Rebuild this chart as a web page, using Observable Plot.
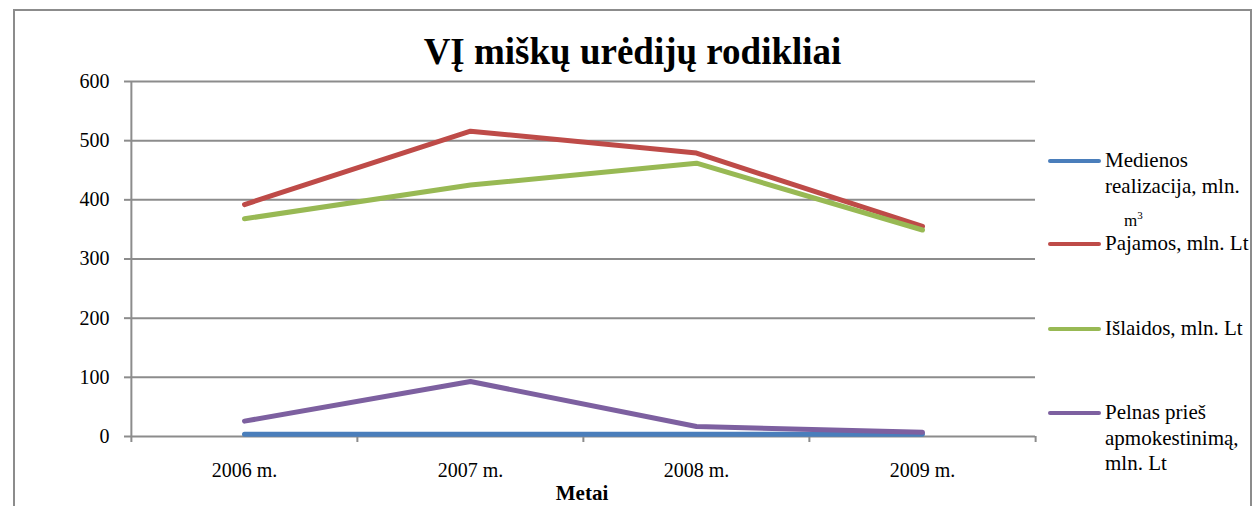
<!DOCTYPE html>
<html>
<head>
<meta charset="utf-8">
<script src="https://cdn.jsdelivr.net/npm/d3@7"></script>
<script src="https://cdn.jsdelivr.net/npm/@observablehq/plot@0.6"></script>
<style>
  html, body { margin: 0; padding: 0; background: #fff; }
  #wrap { position: relative; width: 1253px; height: 506px; overflow: hidden; font-family: "Liberation Serif", "Times New Roman", serif; color: #000; }
  #border { position: absolute; left: 13px; top: 9px; width: 1235px; height: 520px; border: 2px solid #8c8c8c; }
  #chart { position: absolute; left: 0; top: 0; }
  .abs { position: absolute; white-space: nowrap; }
  #title { left: 0; width: 1265px; top: 31px; text-align: center; font-weight: bold; font-size: 37px; line-height: 42px; }
  #xlabel { left: 482px; width: 200px; top: 482px; text-align: center; font-weight: bold; font-size: 21px; line-height: 22px; }
  .leg-line { position: absolute; height: 4px; width: 53px; left: 1048px; border-radius: 2px; }
  .leg-text { position: absolute; left: 1105px; font-size: 21px; line-height: 25px; }
  #chart svg text { font-size: 20px; }
</style>
</head>
<body>
<div id="wrap">
  <div id="border"></div>
  <div id="chart"></div>
  <div id="title" class="abs"></div>
  <div id="xlabel" class="abs"></div>
  <div id="legend"></div>
</div>
<script>
const title = "VĮ miškų urėdijų rodikliai";
const xTitle = "Metai";
const years = ["2006 m.", "2007 m.", "2008 m.", "2009 m."];
const yTicks = [0, 100, 200, 300, 400, 500, 600];

const seriesNames = ["Medienos realizacija, mln. m3", "Pajamos, mln. Lt", "Išlaidos, mln. Lt", "Pelnas prieš apmokestinimą, mln. Lt"];
const seriesColors = ["#4A7EBB", "#BE4B48", "#98B954", "#7D60A0"];

const mediena = [3.8, 3.9, 3.8, 3.6];
const pajamos = [392, 516, 479, 355];
const islaidos = [368, 425, 462, 349];
const pelnas = [26, 93, 17, 7];

const seriesValues = [mediena, pajamos, islaidos, pelnas];

// legend text lines (as wrapped in the reference)
const legendLines = [
  ["Medienos", "realizacija, mln."],
  ["Pajamos, mln. Lt"],
  ["Išlaidos, mln. Lt"],
  ["Pelnas prieš", "apmokestinimą,", "mln. Lt"]
];

const rows = [];
seriesNames.forEach((s, i) => {
  years.forEach((y, j) => rows.push({series: s, year: y, value: seriesValues[i][j]}));
});

const L = 130, R = 1035, T = 81, B = 436;
const W = 1253, H = 506;
const half = (R - L) / years.length / 2;

const plot = Plot.plot({
  width: W,
  height: H,
  marginLeft: L,
  marginRight: W - R,
  marginTop: T,
  marginBottom: H - B,
  style: {fontFamily: "Liberation Serif, Times New Roman, serif", fontSize: "20px", color: "#000", background: "transparent"},
  x: {type: "point", domain: years, padding: 0.5},
  y: {domain: [0, 600]},
  color: {domain: seriesNames, range: seriesColors},
  marks: [
    Plot.gridY(yTicks, {stroke: "#8c8c8c", strokeOpacity: 1, strokeWidth: 2}),
    Plot.ruleX([years[0]], {dx: -half, y1: 0, y2: 600, stroke: "#8c8c8c", strokeWidth: 2}),
    Plot.ruleX(years, {dx: -half, y1: 0, y2: 0, insetBottom: -6, stroke: "#8c8c8c", strokeWidth: 2}),
    Plot.ruleX([years[years.length - 1]], {dx: half, y1: 0, y2: 0, insetBottom: -6, stroke: "#8c8c8c", strokeWidth: 2}),
    Plot.axisY(yTicks, {tickSize: 6, tickPadding: 15, stroke: "#8c8c8c", strokeWidth: 2, label: null, fill: "#000", fontSize: 20}),
    Plot.axisX({tickSize: 0, tickPadding: 26, label: null, fill: "#000", fontSize: 20}),
    Plot.line(rows, {x: "year", y: "value", z: "series", stroke: "series", strokeWidth: 5, strokeLinecap: "round", strokeLinejoin: "round"})
  ]
});
document.getElementById("chart").appendChild(plot);

document.getElementById("title").textContent = title;
document.getElementById("xlabel").textContent = xTitle;

const legendY = [161, 244, 329, 413];
const leg = document.getElementById("legend");
seriesNames.forEach((s, i) => {
  const ln = document.createElement("div");
  ln.className = "leg-line";
  ln.style.top = (legendY[i] - 2) + "px";
  ln.style.background = seriesColors[i];
  leg.appendChild(ln);
  legendLines[i].forEach((t, k) => {
    const d = document.createElement("div");
    d.className = "leg-text abs";
    d.style.top = (legendY[i] - 13 + k * 25.5) + "px";
    d.textContent = t;
    leg.appendChild(d);
  });
});
// superscript unit line of the first entry
const m3 = document.createElement("div");
m3.className = "abs";
m3.style.left = "1124px";
m3.style.top = "209px";
m3.style.fontSize = "17px";
m3.innerHTML = "m<sup style='font-size:11px'>3</sup>";
leg.appendChild(m3);
</script>
</body>
</html>
